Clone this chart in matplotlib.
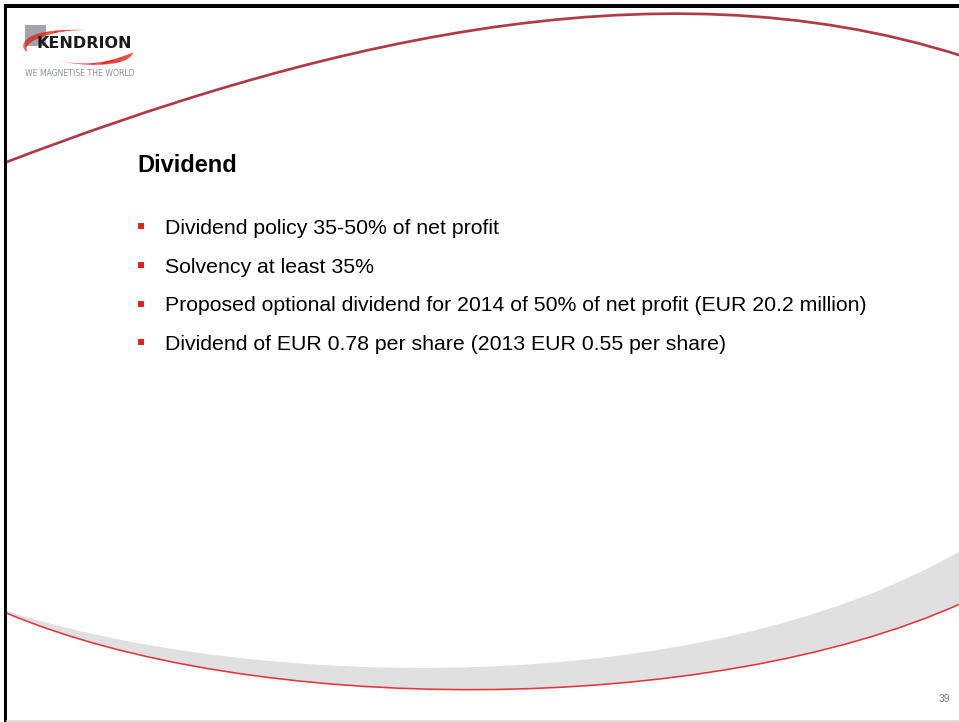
import numpy as np
import matplotlib
matplotlib.use('Agg')
import matplotlib.pyplot as plt
from matplotlib.path import Path
from matplotlib.patches import PathPatch, Rectangle
from matplotlib.collections import LineCollection

# Slide content
title = 'Dividend'
bullets = [
    'Dividend policy 35-50% of net profit',
    'Solvency at least 35%',
    'Proposed optional dividend for 2014 of 50% of net profit (EUR 20.2 million)',
    'Dividend of EUR 0.78 per share (2013 EUR 0.55 per share)',
]
page_number = '39'
brand = 'KENDRION'
tagline = 'WE MAGNETISE THE WORLD'

W, H = 959, 722
fig = plt.figure(figsize=(W / 100, H / 100), dpi=100)
ax = fig.add_axes([0, 0, 1, 1])
ax.set_xlim(0, W)
ax.set_ylim(H, 0)
ax.axis('off')

# --- frame of the slide ---
ax.add_patch(Rectangle((3.5, 4), W, 3.5, color='black', lw=0, zorder=5))
ax.add_patch(Rectangle((3.5, 4), 3.8, H, color='black', lw=0, zorder=5))
ax.plot([7, W], [720.5, 720.5], color='#d9d9d9', lw=1.2, zorder=5)


def bezier(p0, p1, p2, p3):
    return Path([p0, p1, p2, p3], [Path.MOVETO, Path.CURVE4, Path.CURVE4, Path.CURVE4])


# top swoosh
top = bezier((4, 163), (300, 50), (650, -44), (962, 56))
ax.add_patch(PathPatch(top, fc='none', ec='#b03a45', lw=1.95, zorder=2))

# bottom grey band + red line
red_pts = [(4, 612), (250, 717), (710, 717), (962, 603)]
grey_pts = [(4, 610), (250, 690), (700, 702), (962, 550)]
band = Path(grey_pts + [(962, 603)] + red_pts[::-1][1:] + [(4, 610)],
            [Path.MOVETO, Path.CURVE4, Path.CURVE4, Path.CURVE4,
             Path.LINETO, Path.CURVE4, Path.CURVE4, Path.CURVE4, Path.CLOSEPOLY])
ax.add_patch(PathPatch(band, fc='#e0e0e0', ec='none', zorder=1))
ax.add_patch(PathPatch(bezier(*red_pts), fc='none', ec='#e8333a', lw=1.15, zorder=2))

# --- logo ---
ax.add_patch(Rectangle((25, 25), 21, 21, color='#a3a4ab', lw=0, zorder=3))


def swoosh(cx, cy, a, b, t0, t1, wmax, p):
    t = np.radians(np.linspace(t0, t1, 90))
    x = cx + a * np.cos(t)
    y = cy - b * np.sin(t)
    pts = np.column_stack([x, y])
    segs = np.stack([pts[:-1], pts[1:]], axis=1)
    s = np.linspace(0, 1, len(segs))
    lw = wmax * np.sin(np.pi * s ** p) * 0.72
    ax.add_collection(LineCollection(segs, linewidths=lw, colors='#e2231a',
                                     capstyle='butt', zorder=4))


swoosh(80, 47, 55, 17, 82, 198, 5.0, 1.55)
swoosh(88, 47, 48, 17, 222, 342, 4.5, 2.6)
ax.text(37, 47.5, brand, fontsize=11.5, fontweight='bold', family='DejaVu Sans',
        color='#1a1a1a', va='baseline', ha='left', zorder=6)
ax.text(25, 76.5, tagline, fontsize=5.6, family='DejaVu Sans', color='#8c90a0',
        va='baseline', ha='left', zorder=6)

# --- title and bullets ---
ax.text(137, 171.5, title, fontsize=17, fontweight='bold', family='Liberation Sans',
        color='black', va='baseline', ha='left')

first_base, step = 234, 38.7
for i, line in enumerate(bullets):
    yb = first_base + i * step
    ax.plot([140.7], [yb - 7.8], marker='s', ms=4.7, mew=0, color='#e2231a')
    ax.text(165, yb, line, fontsize=15.35, family='Liberation Sans', color='black',
            va='baseline', ha='left')

ax.text(950, 702, page_number, fontsize=7.5, family='Liberation Sans', color='#7f7f7f',
        va='baseline', ha='right')

fig.savefig('out.png', dpi=100, facecolor='white')
